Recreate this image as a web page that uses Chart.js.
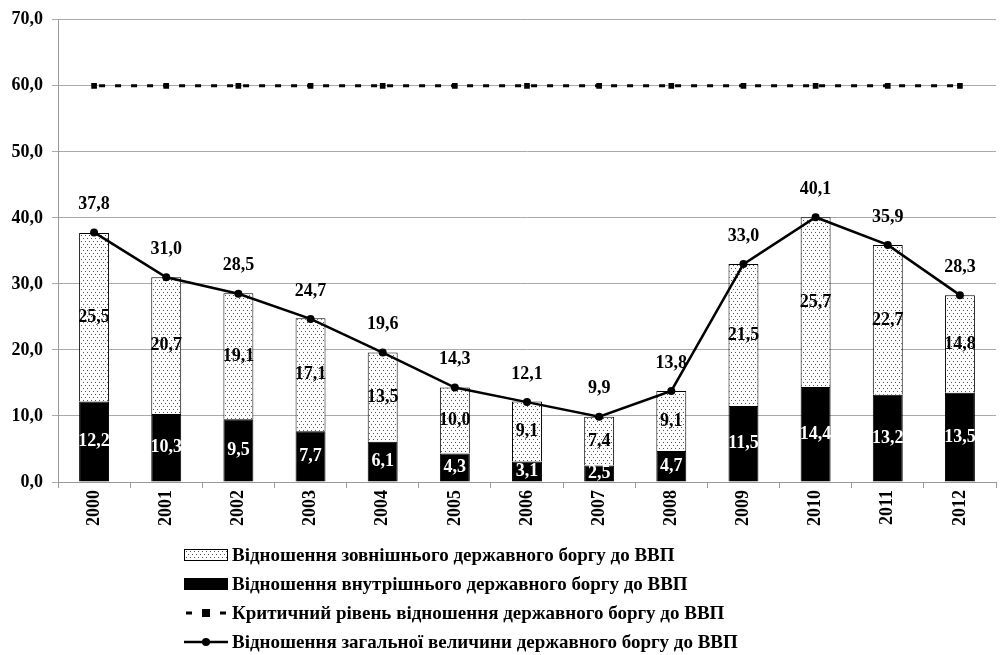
<!DOCTYPE html>
<html>
<head>
<meta charset="utf-8">
<script src="https://cdn.jsdelivr.net/npm/chart.js@4.4.1/dist/chart.umd.min.js"></script>
<style>
  html,body{margin:0;padding:0;background:#fff;}
  #wrap{position:relative;width:1000px;height:655px;}
  #c{position:absolute;left:0;top:0;}
  #legend{position:absolute;left:183px;top:540px;font-family:"Liberation Serif",serif;font-weight:bold;font-size:19px;color:#000;}
  .row{height:29px;display:flex;align-items:center;}
  .row svg{margin-right:3px;}
</style>
</head>
<body>
<div id="wrap">
<canvas id="c" width="1000" height="545"></canvas>
<div id="legend"></div>
</div>
<script>
const years = ["2000","2001","2002","2003","2004","2005","2006","2007","2008","2009","2010","2011","2012"];
const internalDebt = [12.2,10.3,9.5,7.7,6.1,4.3,3.1,2.5,4.7,11.5,14.4,13.2,13.5];
const externalDebt = [25.5,20.7,19.1,17.1,13.5,10.0,9.1,7.4,9.1,21.5,25.7,22.7,14.8];
const totalDebt = [37.8,31.0,28.5,24.7,19.6,14.3,12.1,9.9,13.8,33.0,40.1,35.9,28.3];
const criticalLevel = [60,60,60,60,60,60,60,60,60,60,60,60,60];
const seriesNames = [
  "Відношення зовнішнього державного боргу до ВВП",
  "Відношення внутрішнього державного боргу до ВВП",
  "Критичний рівень відношення державного боргу до ВВП",
  "Відношення загальної величини державного боргу до ВВП"
];
const yTicks = [0,10,20,30,40,50,60,70];

const fmt = v => v.toFixed(1).replace('.', ',');
const FONT = '"Liberation Serif", serif';

// dotted pattern
const pc = document.createElement('canvas');
pc.width = 4; pc.height = 6;
const pctx = pc.getContext('2d');
pctx.fillStyle = '#fff'; pctx.fillRect(0,0,4,6);
pctx.fillStyle = '#555';
pctx.fillRect(1,1,1,1);
pctx.fillRect(3,4,1,1);
const ctx = document.getElementById('c').getContext('2d');
const dots = ctx.createPattern(pc, 'repeat');

const labelPlugin = {
  id: 'labels',
  afterDatasetsDraw(chart) {
    const c = chart.ctx;
    c.save();
    c.font = 'bold 18px ' + FONT;
    c.textAlign = 'center';
    c.textBaseline = 'middle';
    chart.getDatasetMeta(0).data.forEach((el, i) => {
      c.fillStyle = '#fff';
      c.fillText(fmt(internalDebt[i]), el.x, (el.y + el.base) / 2);
    });
    chart.getDatasetMeta(1).data.forEach((el, i) => {
      c.fillStyle = '#000';
      c.fillText(fmt(externalDebt[i]), el.x, (el.y + el.base) / 2);
    });
    chart.getDatasetMeta(3).data.forEach((el, i) => {
      c.fillStyle = '#000';
      c.fillText(fmt(totalDebt[i]), el.x, el.y - 28);
    });
    c.restore();
  }
};

new Chart(ctx, {
  type: 'bar',
  data: {
    labels: years,
    datasets: [
      { label: seriesNames[1], data: internalDebt, backgroundColor: '#000', borderColor: '#000', borderWidth: 1, stack: 'debt', order: 2, barPercentage: 0.415, categoryPercentage: 1 },
      { label: seriesNames[0], data: externalDebt, backgroundColor: dots, borderColor: '#000', borderWidth: 1, stack: 'debt', order: 2, barPercentage: 0.415, categoryPercentage: 1 },
      { type: 'line', label: seriesNames[2], data: criticalLevel, borderColor: '#000', borderWidth: 3, borderDash: [6,10], borderDashOffset: -5, pointStyle: 'rect', pointRadius: 4, pointBackgroundColor: '#000', pointBorderColor: '#000', pointBorderWidth: 0, stack: 'crit', order: 0, fill: false, tension: 0 },
      { type: 'line', label: seriesNames[3], data: totalDebt, borderColor: '#000', borderWidth: 2.5, pointStyle: 'circle', pointRadius: 4, pointBackgroundColor: '#000', pointBorderColor: '#000', pointBorderWidth: 0, stack: 'total', order: 0, fill: false, tension: 0 }
    ]
  },
  options: {
    responsive: false,
    animation: false,
    layout: { padding: { top: 17, right: 3, left: 0, bottom: 0 } },
    plugins: { legend: { display: false }, tooltip: { enabled: false } },
    scales: {
      x: {
        stacked: true,
        grid: { offset: true, drawOnChartArea: false, color: '#999', tickLength: 6 },
        border: { color: '#999' },
        ticks: { color: '#000', font: { family: FONT, weight: 'bold', size: 18 }, minRotation: 90, maxRotation: 90, padding: 2 },
        afterFit(s) { s.height = 63; }
      },
      y: {
        stacked: true,
        min: 0, max: 70,
        afterBuildTicks(s) { s.ticks = yTicks.map(v => ({ value: v })); },
        grid: { color: '#aaa', tickLength: 6 },
        border: { color: '#999' },
        ticks: { color: '#000', font: { family: FONT, weight: 'bold', size: 18 }, padding: 9, callback: v => fmt(v) },
        afterFit(s) { s.width = 58; }
      }
    }
  },
  plugins: [labelPlugin]
});

// HTML legend
const sw = [
  '<svg width="46" height="16"><defs><pattern id="p" width="4" height="6" patternUnits="userSpaceOnUse"><rect width="4" height="6" fill="#fff"/><rect x="1" y="1" width="1" height="1" fill="#555"/><rect x="3" y="4" width="1" height="1" fill="#555"/></pattern></defs><rect x="1.5" y="2.5" width="43" height="11" fill="url(#p)" stroke="#000" stroke-width="1"/></svg>',
  '<svg width="46" height="16"><rect x="1" y="2" width="44" height="12" fill="#000"/></svg>',
  '<svg width="46" height="16"><rect x="3" y="6.5" width="6" height="3" fill="#000"/><rect x="19" y="4" width="8" height="8" fill="#000"/><rect x="37" y="6.5" width="6" height="3" fill="#000"/></svg>',
  '<svg width="46" height="16"><line x1="1" y1="8" x2="45" y2="8" stroke="#000" stroke-width="2.5"/><circle cx="23" cy="8" r="4" fill="#000"/></svg>'
];
const leg = document.getElementById('legend');
[0,1,2,3].forEach(i => {
  const d = document.createElement('div');
  d.className = 'row';
  d.innerHTML = sw[i] + '<span>' + seriesNames[i] + '</span>';
  leg.appendChild(d);
});
</script>
</body>
</html>
